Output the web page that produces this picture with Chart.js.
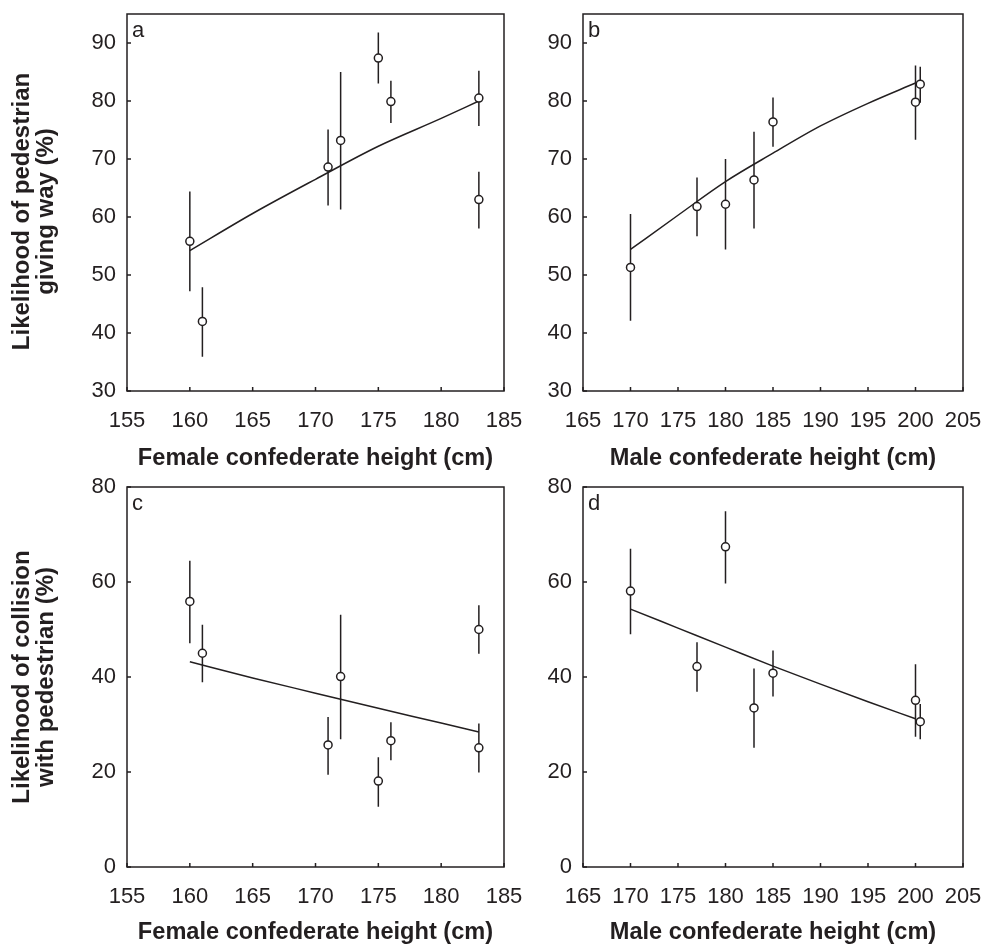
<!DOCTYPE html>
<html>
<head>
<meta charset="utf-8">
<script src="https://cdn.jsdelivr.net/npm/chart.js@4/dist/chart.umd.min.js"></script>
<style>
    body { margin: 0; background: #fff; }
    #wrap { position: relative; width: 988px; height: 948px; }
    canvas { position: absolute; }
</style>
</head>
<body>
<div id="wrap">
    <canvas id="chartA" width="540" height="474" style="left:0;top:0"></canvas>
    <canvas id="chartB" width="448" height="474" style="left:540px;top:0"></canvas>
    <canvas id="chartC" width="540" height="474" style="left:0;top:474px"></canvas>
    <canvas id="chartD" width="448" height="474" style="left:540px;top:474px"></canvas>
</div>
<script>
// heights of the confederates (cm)
const femaleHeights = [160, 161, 171, 172, 175, 176, 183, 183];
const maleHeights = [170, 177, 180, 183, 185, 200, 200.5];

// a: pedestrian giving way, female confederates
const giveWayFemale = [55.8, 42.0, 68.6, 73.2, 87.4, 79.9, 80.5, 63.0];
const giveWayFemaleLow = [47.2, 35.9, 62.0, 61.3, 83.0, 76.2, 75.7, 58.0];
const giveWayFemaleHigh = [64.4, 47.9, 75.1, 85.0, 91.8, 83.5, 85.2, 67.8];
const fitFemaleX = [160, 165, 170, 175, 180, 183];
const fitGiveWayFemale = [54.2, 60.6, 66.5, 72.2, 77.0, 80.0];

// b: pedestrian giving way, male confederates
const giveWayMale = [51.3, 61.8, 62.2, 66.4, 76.4, 79.8, 82.9];
const giveWayMaleLow = [42.1, 56.7, 54.4, 58.0, 72.1, 73.3, 79.7];
const giveWayMaleHigh = [60.5, 66.8, 70.0, 74.7, 80.6, 86.1, 85.9];
const fitMaleX = [170, 175, 180, 185, 190, 195, 200];
const fitGiveWayMale = [54.4, 60.3, 66.1, 71.0, 75.7, 79.6, 83.1];

// c: collision, female confederates
const collisionFemale = [55.9, 45.0, 25.7, 40.1, 18.1, 26.6, 50.0, 25.1];
const collisionFemaleLow = [47.1, 38.9, 19.4, 26.9, 12.7, 22.5, 44.9, 19.9];
const collisionFemaleHigh = [64.5, 51.0, 31.6, 53.1, 23.1, 30.5, 55.1, 30.2];
const fitCollisionFemale = [43.2, 39.8, 36.6, 33.4, 30.3, 28.4];

// d: collision, male confederates
const collisionMale = [58.1, 42.2, 67.4, 33.5, 40.8, 35.1, 30.6];
const collisionMaleLow = [49.0, 36.9, 59.7, 25.1, 35.9, 27.4, 26.9];
const collisionMaleHigh = [67.0, 47.3, 74.9, 41.8, 45.6, 42.7, 34.3];
const fitCollisionMale = [54.3, 50.3, 46.3, 42.3, 38.5, 34.8, 31.2];

// tick labels
const femaleTicks = [155, 160, 165, 170, 175, 180, 185];
const maleTicks = [165, 170, 175, 180, 185, 190, 195, 200, 205];
const giveWayTicks = [30, 40, 50, 60, 70, 80, 90];
const collisionTicks = [0, 20, 40, 60, 80];

const ink = '#231f20';
const fontFamily = '"Liberation Sans", Arial, sans-serif';

// box, inward tick marks, panel letter and the two-line y title
const framePlugin = {
    id: 'frame',
    afterDatasetsDraw: function(chart, args, opts) {
        const ctx = chart.ctx;
        const area = chart.chartArea;
        const xs = chart.scales.x;
        const ys = chart.scales.y;
        ctx.save();
        ctx.strokeStyle = ink;
        ctx.lineWidth = 1.5;
        ctx.strokeRect(area.left, area.top, area.right - area.left, area.bottom - area.top);
        ctx.beginPath();
        xs.ticks.forEach(function(t, i) {
            const px = xs.getPixelForTick(i);
            ctx.moveTo(px, area.bottom);
            ctx.lineTo(px, area.bottom - 4);
        });
        ys.ticks.forEach(function(t, i) {
            const py = ys.getPixelForTick(i);
            ctx.moveTo(area.left, py);
            ctx.lineTo(area.left + 4, py);
        });
        ctx.stroke();
        ctx.fillStyle = ink;
        ctx.font = '22px ' + fontFamily;
        ctx.textBaseline = 'alphabetic';
        ctx.fillText(opts.letter, area.left + 5, area.top + 23);

        if (opts.yTitle) {
            ctx.font = 'bold 24px ' + fontFamily;
            ctx.textAlign = 'center';
            ctx.textBaseline = 'middle';
            ctx.translate(22, (area.top + area.bottom) / 2 + opts.titleShift);
            ctx.rotate(-Math.PI / 2);
            opts.yTitle.forEach(function(line, i) {
                ctx.fillText(line, 0, i * 24);
            });
        }
        ctx.restore();
    }
};

function errorSegments(xs, lo, hi) {
    const pts = [];
    xs.forEach(function(x, i) {
        pts.push({x: x, y: lo[i]}, {x: x, y: hi[i]}, {x: x, y: null});
    });
    return pts;
}

function pairs(xs, ys) {
    return xs.map(function(x, i) { return {x: x, y: ys[i]}; });
}

// the layout pads for overhanging labels; the panels are placed by hand instead
function noPadding(scale) {
    scale.paddingTop = 0;
    scale.paddingBottom = 0;
    scale.paddingLeft = 0;
    scale.paddingRight = 0;
}

function makePanel(id, p) {
    const ctx = document.getElementById(id).getContext('2d');
    return new Chart(ctx, {
        type: 'line',
        data: {
            datasets: [{
                label: 'means',
                data: pairs(p.xs, p.means),
                showLine: false,
                pointRadius: 4,
                pointBorderWidth: 1.5,
                pointBackgroundColor: '#fff',
                pointBorderColor: ink,
                order: 0
            }, {
                label: 'fit',
                data: pairs(p.fitX, p.fitY),
                borderColor: ink,
                borderWidth: 1.5,
                pointRadius: 0,
                cubicInterpolationMode: 'monotone',
                order: 1
            }, {
                label: 'error',
                data: errorSegments(p.xs, p.low, p.high),
                borderColor: ink,
                borderWidth: 1.5,
                pointRadius: 0,
                spanGaps: false,
                order: 2
            }]
        },
        options: {
            responsive: false,
            animation: false,
            devicePixelRatio: 1,
            layout: {
                padding: {left: 0, top: p.padTop, right: p.padRight, bottom: 0}
            },
            plugins: {
                legend: {display: false},
                tooltip: {enabled: false},
                frame: {letter: p.letter, yTitle: p.yTitle, titleShift: p.titleShift || 0}
            },
            scales: {
                x: {
                    type: 'linear',
                    min: p.xTicks[0],
                    max: p.xTicks[p.xTicks.length - 1],
                    afterBuildTicks: function(scale) {
                        scale.ticks = p.xTicks.map(function(v) { return {value: v}; });
                    },
                    afterFit: function(scale) {
                        scale.height = p.xHeight;
                        noPadding(scale);
                    },
                    grid: {display: false, drawTicks: false},
                    border: {display: false},
                    ticks: {
                        color: ink,
                        padding: 19,
                        maxRotation: 0,
                        font: {family: fontFamily, size: 22, lineHeight: 1}
                    },
                    title: {
                        display: true,
                        text: p.xTitle,
                        color: ink,
                        padding: {top: 0, bottom: 4},
                        font: {family: fontFamily, size: 23.6, weight: 'bold', lineHeight: 1}
                    }
                },
                y: {
                    type: 'linear',
                    min: p.yMin,
                    max: p.yMax,
                    afterBuildTicks: function(scale) {
                        scale.ticks = p.yTicks.map(function(v) { return {value: v}; });
                    },
                    afterFit: function(scale) {
                        scale.width = p.yWidth;
                        noPadding(scale);
                    },
                    grid: {display: false, drawTicks: false},
                    border: {display: false},
                    ticks: {
                        color: ink,
                        padding: 11,
                        font: {family: fontFamily, size: 22, lineHeight: 1}
                    }
                }
            }
        },
        plugins: [framePlugin]
    });
}

makePanel('chartA', {
    letter: 'a', xs: femaleHeights, means: giveWayFemale, low: giveWayFemaleLow, high: giveWayFemaleHigh,
    fitX: fitFemaleX, fitY: fitGiveWayFemale, xTicks: femaleTicks, yTicks: giveWayTicks,
    yMin: 30, yMax: 95, padTop: 14, padRight: 36, xHeight: 83, yWidth: 127,
    xTitle: 'Female confederate height (cm)',
    yTitle: ['Likelihood of pedestrian', 'giving way (%)'], titleShift: 9
});

makePanel('chartB', {
    letter: 'b', xs: maleHeights, means: giveWayMale, low: giveWayMaleLow, high: giveWayMaleHigh,
    fitX: fitMaleX, fitY: fitGiveWayMale, xTicks: maleTicks, yTicks: giveWayTicks,
    yMin: 30, yMax: 95, padTop: 14, padRight: 25, xHeight: 83, yWidth: 43,
    xTitle: 'Male confederate height (cm)',
    yTitle: null
});

makePanel('chartC', {
    letter: 'c', xs: femaleHeights, means: collisionFemale, low: collisionFemaleLow, high: collisionFemaleHigh,
    fitX: fitFemaleX, fitY: fitCollisionFemale, xTicks: femaleTicks, yTicks: collisionTicks,
    yMin: 0, yMax: 80, padTop: 13, padRight: 36, xHeight: 81, yWidth: 127,
    xTitle: 'Female confederate height (cm)',
    yTitle: ['Likelihood of collision', 'with pedestrian (%)'], titleShift: 0
});

makePanel('chartD', {
    letter: 'd', xs: maleHeights, means: collisionMale, low: collisionMaleLow, high: collisionMaleHigh,
    fitX: fitMaleX, fitY: fitCollisionMale, xTicks: maleTicks, yTicks: collisionTicks,
    yMin: 0, yMax: 80, padTop: 13, padRight: 25, xHeight: 81, yWidth: 43,
    xTitle: 'Male confederate height (cm)',
    yTitle: null
});
</script>
</body>
</html>
